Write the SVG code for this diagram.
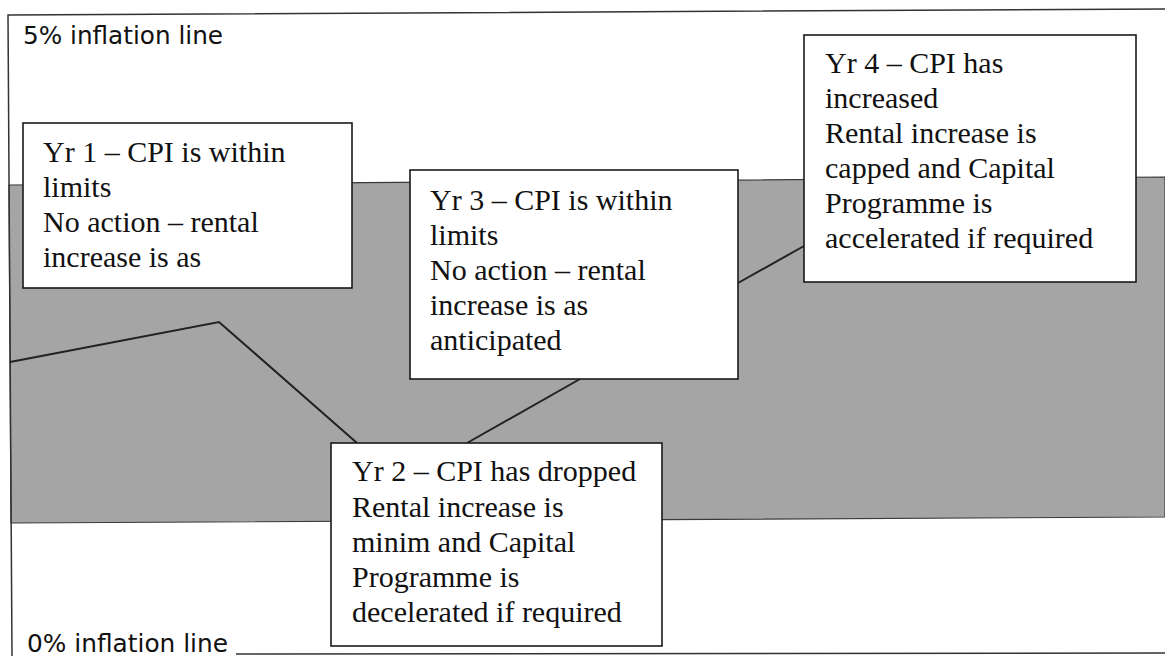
<svg xmlns="http://www.w3.org/2000/svg" width="1165" height="656" viewBox="0 0 1165 656">
<style>
.frame{fill:none;stroke:#333;stroke-width:1.5}
.band{fill:#a5a5a5;stroke:#3a3a3a;stroke-width:1.2}
.box{fill:#fff;stroke:#1a1a1a;stroke-width:1.6}
.t{font-family:"Liberation Serif","Times New Roman",serif;font-size:30px;fill:#111}
.lbl{font-family:"DejaVu Sans","Verdana",sans-serif;font-size:24px;fill:#111}
.conn{fill:none;stroke:#222;stroke-width:2}
</style>
<rect width="1165" height="656" fill="#fff"/>
<g id="background">
<polygon class="band" points="9,185 1165,177 1165,517 11,523"/>
<polyline class="frame" points="1165,9 8,15 12,656"/>
<line class="frame" x1="236" y1="654" x2="1165" y2="653"/>
<text class="lbl" x="23" y="44" textLength="200" lengthAdjust="spacingAndGlyphs">5% inflation line</text>
<text class="lbl" x="27" y="652" textLength="201" lengthAdjust="spacingAndGlyphs">0% inflation line</text>
</g>
<g id="connectors">
<polyline class="conn" points="10,362 219,322 357,443"/>
<line class="conn" x1="467" y1="443" x2="580" y2="379"/>
<line class="conn" x1="738" y1="283" x2="804" y2="246"/>
</g>
<g id="yr1">
<rect class="box" x="23" y="123" width="329" height="165"/>
<text class="t" x="43" y="162">Yr 1 – CPI is within</text>
<text class="t" x="43" y="197">limits</text>
<text class="t" x="43" y="232">No action – rental</text>
<text class="t" x="43" y="267">increase is as</text>
</g>
<g id="yr3">
<rect class="box" x="410" y="170" width="328" height="209"/>
<text class="t" x="430" y="210">Yr 3 – CPI is within</text>
<text class="t" x="430" y="245">limits</text>
<text class="t" x="430" y="280">No action – rental</text>
<text class="t" x="430" y="315">increase is as</text>
<text class="t" x="430" y="350">anticipated</text>
</g>
<g id="yr4">
<rect class="box" x="804" y="35" width="332" height="247"/>
<text class="t" x="825" y="73">Yr 4 – CPI has</text>
<text class="t" x="825" y="108">increased</text>
<text class="t" x="825" y="143">Rental increase is</text>
<text class="t" x="825" y="178">capped and Capital</text>
<text class="t" x="825" y="213">Programme is</text>
<text class="t" x="825" y="248">accelerated if required</text>
</g>
<g id="yr2">
<rect class="box" x="331" y="443" width="331" height="203"/>
<text class="t" x="352" y="481">Yr 2 – CPI has dropped</text>
<text class="t" x="352" y="517">Rental increase is</text>
<text class="t" x="352" y="552">minim and Capital</text>
<text class="t" x="352" y="587">Programme is</text>
<text class="t" x="352" y="622">decelerated if required</text>
</g>
</svg>
